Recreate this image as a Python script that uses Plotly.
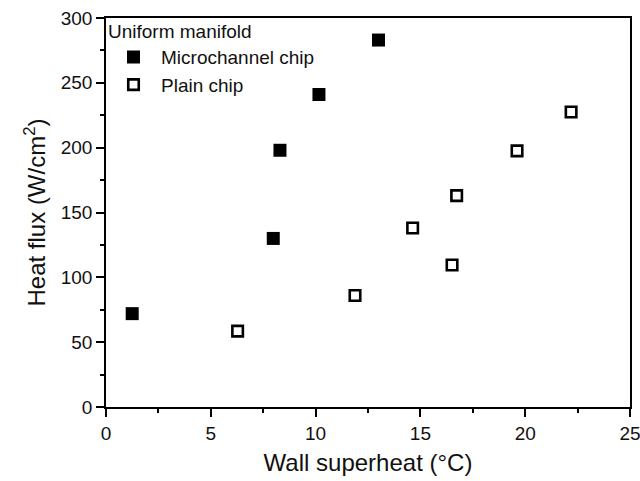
import plotly.graph_objects as go

# Wall superheat (°C) and heat flux (W/cm²) for each chip type
micro_superheat = [1.25, 7.98, 8.30, 10.16, 13.0]
micro_flux = [72, 130, 198, 241, 283]

plain_superheat = [6.28, 11.88, 14.63, 16.51, 16.73, 19.61, 22.19]
plain_flux = [58.5, 86, 138, 109.5, 163, 197.5, 227.5]

FONT = "Liberation Sans, Arial, sans-serif"
INK = "#111"

fig = go.Figure()
fig.add_trace(go.Scatter(
    x=micro_superheat, y=micro_flux, mode="markers", name="Microchannel chip",
    marker=dict(symbol="square", size=13, color="black", line=dict(width=0)),
))
fig.add_trace(go.Scatter(
    x=plain_superheat, y=plain_flux, mode="markers", name="Plain chip",
    marker=dict(symbol="square-open", size=10.5, color="black", line=dict(width=2.6)),
))

axis_common = dict(
    showline=True, linecolor="black", linewidth=1.5, mirror=True,
    ticks="outside", ticklen=8, tickwidth=1.5, tickcolor="black",
    showgrid=False, zeroline=False, automargin=False,
    ticklabeloverflow="allow",
    tickfont=dict(family=FONT, size=19, color=INK),
)

fig.update_xaxes(
    range=[0, 25], tick0=0, dtick=5,
    minor=dict(ticks="outside", ticklen=4, tickwidth=1.5, tickcolor="black", dtick=2.5),
    title=dict(text="Wall superheat (°C)", font=dict(family=FONT, size=24, color=INK), standoff=12),
    **axis_common,
)
fig.update_yaxes(
    range=[0, 300], tick0=0, dtick=50,
    minor=dict(ticks="outside", ticklen=4, tickwidth=1.5, tickcolor="black", dtick=25),
    title=dict(text="Heat flux (W/cm<sup>2</sup>)", font=dict(family=FONT, size=24, color=INK), standoff=8),
    **axis_common,
)

fig.update_layout(
    width=640, height=481,
    margin=dict(l=106, r=10, t=18, b=74),
    paper_bgcolor="white", plot_bgcolor="white",
    showlegend=True,
    legend=dict(
        title=dict(text="Uniform manifold", font=dict(family=FONT, size=19, color=INK)),
        font=dict(family=FONT, size=19, color=INK),
        x=0.0, y=1.012, xanchor="left", yanchor="top",
        bgcolor="rgba(0,0,0,0)", borderwidth=0,
        tracegroupgap=0, itemwidth=45,
    ),
)

fig.write_html("out.html")
